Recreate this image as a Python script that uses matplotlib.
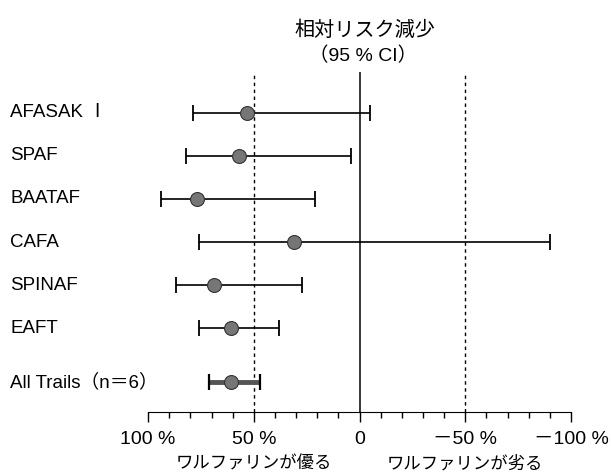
import numpy as np
import matplotlib
matplotlib.use("Agg")
import matplotlib.pyplot as plt
from matplotlib.transforms import blended_transform_factory

plt.rcParams['font.family'] = ['Liberation Sans', 'Noto Sans CJK JP', 'DejaVu Sans']

# relative risk reduction (%) with 95% CI
trials = ["AFASAK Ⅰ", "SPAF", "BAATAF", "CAFA", "SPINAF", "EAFT", "All Trails（n＝6）"]
rrr = [53, 57, 77, 31, 69, 61, 61]
ci_low = [79, 82, 94, 76, 87, 76, 71]   # left end (bigger reduction)
ci_high = [-5, 4, 21, -90, 27, 38, 47]  # right end
tick_vals = [100, 50, 0, -50, -100]
tick_labels = ["100 %", "50 %", "0", "－50 %", "－100 %"]

fig = plt.figure(figsize=(6.11, 4.72), dpi=100)
ax = fig.add_axes([146/611, 1-412/472, 425/611, 340/472])

ypos = np.arange(len(trials), dtype=float)
ypos[-1] += 0.25  # small gap before pooled row

for i in range(len(trials)):
    pooled = i == len(trials) - 1
    ax.plot([ci_low[i], ci_high[i]], [ypos[i], ypos[i]],
            color='#555555' if pooled else 'black', lw=3.5 if pooled else 1.2,
            solid_capstyle='butt', zorder=2)
    for e in (ci_low[i], ci_high[i]):
        ax.plot([e], [ypos[i]], marker='|', markersize=12, mew=1.6 if pooled else 1.3,
                color='black', zorder=3)
    ax.plot([rrr[i]], [ypos[i]], marker='o', markersize=10, color='#767676',
            mec='#333333', mew=0.8, zorder=4)

ax.axvline(0, color='black', lw=1.1, zorder=1)
ax.axvline(50, color='black', lw=1, ls=(0, (2.5, 2.5)), zorder=1)
ax.axvline(-50, color='black', lw=1, ls=(0, (2.5, 2.5)), zorder=1)

ax.set_xlim(101, -100)
ax.set_ylim(6.95, -0.95)
for s in ['top', 'right', 'left']:
    ax.spines[s].set_visible(False)
ax.spines['bottom'].set_bounds(100, -100)
ax.set_yticks([])
ax.set_xticks(tick_vals)
ax.set_xticklabels(tick_labels, fontsize=14)
ax.set_xticks(np.arange(-100, 101, 10), minor=True)
ax.tick_params(axis='x', which='major', length=7, width=1, pad=7)
ax.tick_params(axis='x', which='minor', length=4, width=1)

row_tr = blended_transform_factory(fig.transFigure, ax.transData)
for i, name in enumerate(trials):
    ax.text(10/611, ypos[i], name, transform=row_tr, fontsize=13.5, va='center', ha='left')

fig.text(365/611, 1-30/472, "相対リスク減少", ha='center', va='center', fontsize=14.5)
fig.text(363/611, 1-56/472, "（95 % CI）", ha='center', va='center', fontsize=14)

bot_tr = blended_transform_factory(ax.transData, fig.transFigure)
ax.text(50, 1-463/472, "ワルファリンが優る", transform=bot_tr, ha='center', va='center', fontsize=12.5)
ax.text(-50, 1-463/472, "ワルファリンが劣る", transform=bot_tr, ha='center', va='center', fontsize=12.5)

fig.savefig("out.png", dpi=100)
